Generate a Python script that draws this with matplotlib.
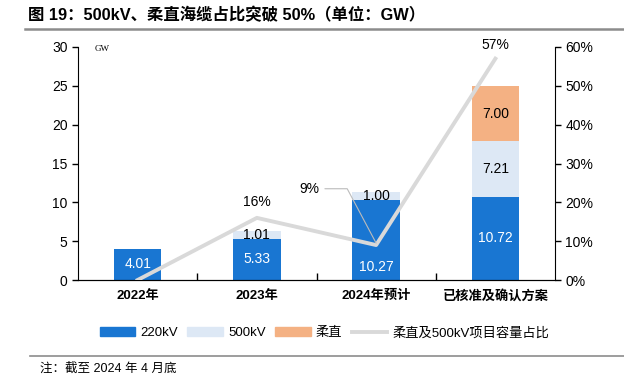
import numpy as np
import matplotlib.pyplot as plt
from matplotlib.lines import Line2D
from matplotlib.patches import Patch

plt.rcParams['font.family'] = ['Liberation Sans', 'Noto Sans CJK SC', 'DejaVu Sans']

cats = ['2022年', '2023年', '2024年预计', '已核准及确认方案']
kv220 = [4.01, 5.33, 10.27, 10.72]
kv500 = [0, 1.01, 1.00, 7.21]
rouzhi = [0, 0, 0, 7.00]
ratio = [0.0, 0.16, 0.09, 0.57]
ratio_lbl = ['', '16%', '9%', '57%']

c220 = '#1976d2'
c500 = '#dde8f5'
crz = '#f4b183'
cline = '#d9d9d9'

fig = plt.figure(figsize=(6.24, 3.78), dpi=100)
ax = fig.add_axes([78/624, 1-280/378, 477/624, 233/378])
x = np.arange(len(cats))
w = 0.4
b2 = np.array(kv220)
b3 = b2 + np.array(kv500)
ax.bar(x, kv220, w, color=c220, zorder=2)
ax.bar(x, kv500, w, bottom=b2, color=c500, zorder=2)
ax.bar(x, rouzhi, w, bottom=b3, color=crz, zorder=2)

fs = 10
for i in range(len(cats)):
    yy = kv220[i] / 2
    if i == 2:
        yy = 1.7  # moved down in the original to clear the line
    ax.text(x[i], yy, f'{kv220[i]:.2f}', ha='center', va='center', color='white', fontsize=fs, zorder=5)
    if kv500[i] > 0:
        ax.text(x[i], b2[i] + kv500[i] / 2, f'{kv500[i]:.2f}', ha='center', va='center', color='black', fontsize=fs, zorder=5)
    if rouzhi[i] > 0:
        ax.text(x[i], b3[i] + rouzhi[i] / 2, f'{rouzhi[i]:.2f}', ha='center', va='center', color='black', fontsize=fs, zorder=5)

ax.set_xlim(-0.5, 3.5)
ax.set_ylim(0, 30)
ax.set_yticks(range(0, 31, 5))
ax.set_xticks([0.5, 1.5, 2.5])
ax.set_xticklabels([])
ax.tick_params(axis='x', direction='in', length=5, width=1)
ax.tick_params(axis='y', length=4, width=1, labelsize=fs)
for i, c in enumerate(cats):
    ax.text(x[i], -2.1, c, ha='center', va='center', fontsize=9.5, fontweight='bold')
ax.spines['top'].set_visible(False)
ax.spines['right'].set_visible(False)
ax.text(-0.3, 29.7, 'GW', fontsize=6.5, family=['Liberation Serif'], va='center', ha='center')

ax2 = ax.twinx()
ax2.plot(x, ratio, color=cline, lw=2.8, zorder=3)
ax2.set_ylim(0, 0.6)
ax2.set_yticks(np.arange(0, 0.61, 0.1))
ax2.set_yticklabels([f'{int(round(v*100))}%' for v in np.arange(0, 0.61, 0.1)])
ax2.tick_params(axis='y', length=4, width=1, labelsize=fs)
ax2.spines['top'].set_visible(False)
ax2.spines['left'].set_visible(False)
ax2.text(x[1], ratio[1] + 0.022, ratio_lbl[1], ha='center', va='bottom', fontsize=fs)
ax2.text(x[3], ratio[3] + 0.016, ratio_lbl[3], ha='center', va='bottom', fontsize=fs)
ax2.annotate(ratio_lbl[2], xy=(x[2], ratio[2] + 0.005), xytext=(x[2] - 0.56, 0.235),
             ha='center', va='center', fontsize=fs,
             arrowprops=dict(arrowstyle='-', color='#bbbbbb', lw=0.8,
                             connectionstyle='angle,angleA=0,angleB=118,rad=0',
                             shrinkA=2, shrinkB=0))

handles = [Patch(color=c220), Patch(color=c500), Patch(color=crz), Line2D([], [], color=cline, lw=2.8)]
labels = ['220kV', '500kV', '柔直', '柔直及500kV项目容量占比']
fig.legend(handles, labels, loc='center', bbox_to_anchor=(0.52, 1-333/378), ncol=4, frameon=False,
           fontsize=9.5, handlelength=2.7, handleheight=0.6, columnspacing=0.7, handletextpad=0.4)

fig.text(28/624, 1-15/378, '图 19：500kV、柔直海缆占比突破 50%（单位：GW）', fontsize=11.8, fontweight='bold', va='center')
fig.add_artist(Line2D([25/624, 1], [1-29/378, 1-29/378], color='#8c8c8c', lw=1.8))
fig.add_artist(Line2D([30/624, 1], [1-356/378, 1-356/378], color='#8c8c8c', lw=1.2))
fig.text(40/624, 1-369/378, '注：截至 2024 年 4 月底', fontsize=9, va='center')

fig.savefig('out.png', dpi=100)
